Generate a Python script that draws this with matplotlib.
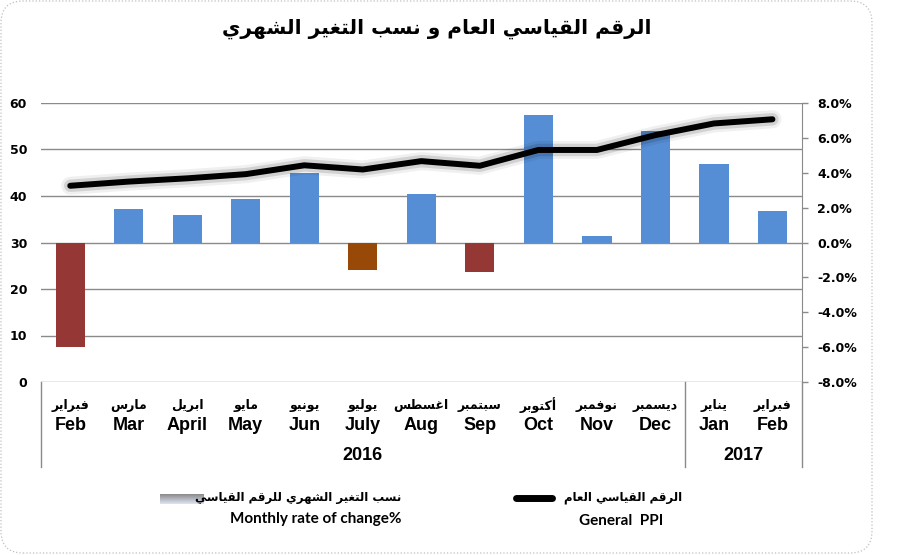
import matplotlib
matplotlib.use("Agg")
import matplotlib.pyplot as plt
import matplotlib.patheffects as pe
import numpy as np
from matplotlib.lines import Line2D
from matplotlib.patches import FancyBboxPatch
from matplotlib.transforms import IdentityTransform, blended_transform_factory
from matplotlib.colors import LinearSegmentedColormap

# --------------------------------------------------------------------------
# Data
# --------------------------------------------------------------------------
MONTHS_EN = ["Feb", "Mar", "April", "May", "Jun", "July", "Aug", "Sep",
             "Oct", "Nov", "Dec", "Jan", "Feb"]
MONTHS_AR = ["فبراير", "مارس", "ابريل", "مايو", "يونيو", "يوليو", "اغسطس",
             "سبتمبر", "أكتوبر", "نوفمبر", "ديسمبر", "يناير", "فبراير"]
YEARS = ["2016", "2017"]
YEAR_SPANS = [(0, 11), (11, 13)]  # [start, stop) category index per year

# General PPI (left axis)
PPI = [42.2, 43.1, 43.8, 44.7, 46.6, 45.7, 47.5, 46.5, 49.9, 49.9, 53.1, 55.6, 56.5]
# Monthly rate of change, % (right axis)
RATE = [-6.0, 1.9, 1.6, 2.5, 4.0, -1.6, 2.8, -1.7, 7.3, 0.4, 6.4, 4.5, 1.8]

TITLE = "الرقم القياسي العام و نسب التغير الشهري"
LEG_BAR_AR = "نسب التغير الشهري للرقم القياسي"
LEG_BAR_EN = "Monthly rate of change%"
LEG_LINE_AR = "الرقم القياسي العام"
LEG_LINE_EN = "General  PPI"

# --------------------------------------------------------------------------
# Styles
# --------------------------------------------------------------------------
BLUE = "#558ED5"
RED = "#953735"
ORANGE = "#984807"
BAR_COLORS = [RED, BLUE, BLUE, BLUE, BLUE, ORANGE, BLUE, RED, BLUE, BLUE, BLUE, BLUE, BLUE]
GRID = "#8a8a8a"
ARIAL = ["Liberation Sans", "DejaVu Sans"]
CALIBRI = ["Lato", "Open Sans", "DejaVu Sans"]
AR_FONT = ["DejaVu Sans"]

# --------------------------------------------------------------------------
# Minimal Arabic shaping (matplotlib has no bidi / contextual forms)
# --------------------------------------------------------------------------
_FORMS = {
    "ا": (0xFE8D, 0xFE8E), "أ": (0xFE83, 0xFE84), "إ": (0xFE87, 0xFE88),
    "آ": (0xFE81, 0xFE82), "د": (0xFEA9, 0xFEAA), "ذ": (0xFEAB, 0xFEAC),
    "ر": (0xFEAD, 0xFEAE), "ز": (0xFEAF, 0xFEB0), "و": (0xFEED, 0xFEEE),
    "ة": (0xFE93, 0xFE94), "ى": (0xFEEF, 0xFEF0),
    "ب": 0xFE8F, "ت": 0xFE95, "ث": 0xFE99, "ج": 0xFE9D, "ح": 0xFEA1,
    "خ": 0xFEA5, "س": 0xFEB1, "ش": 0xFEB5, "ص": 0xFEB9, "ض": 0xFEBD,
    "ط": 0xFEC1, "ظ": 0xFEC5, "ع": 0xFEC9, "غ": 0xFECD, "ف": 0xFED1,
    "ق": 0xFED5, "ك": 0xFED9, "ل": 0xFEDD, "م": 0xFEE1, "ن": 0xFEE5,
    "ه": 0xFEE9, "ي": 0xFEF1,
}


def ar(text):
    out = []
    for i, c in enumerate(text):
        f = _FORMS.get(c)
        if f is None:
            out.append(c)
            continue
        prev = text[i - 1] if i > 0 else ""
        nxt = text[i + 1] if i + 1 < len(text) else ""
        join_prev = isinstance(_FORMS.get(prev), int)
        if isinstance(f, int):
            join_next = nxt in _FORMS
            idx = {(0, 0): 0, (1, 0): 1, (0, 1): 2, (1, 1): 3}[(join_prev, join_next)]
            out.append(chr(f + idx))
        else:
            out.append(chr(f[1] if join_prev else f[0]))
    return "".join(reversed(out))


# --------------------------------------------------------------------------
# Figure
# --------------------------------------------------------------------------
W, H = 906, 555
fig = plt.figure(figsize=(W / 100, H / 100), dpi=100)
fig.patch.set_facecolor("white")


def fx(px):
    return px / W


def fy(py):
    return 1 - py / H


rect = [fx(41), fy(382), fx(801.7) - fx(41), fy(103) - fy(382)]
ax = fig.add_axes(rect)
x = np.arange(len(MONTHS_EN))

# left axis: grid + 0..60 labels
ax.set_ylim(0, 60)
ax.set_yticks(range(0, 61, 10))
ax.set_xlim(-0.5, len(x) - 0.5)
ax.grid(axis="y", color=GRID, lw=1)
ax.set_axisbelow(True)
ax.tick_params(axis="y", length=0, pad=10, labelsize=9)
ax.tick_params(axis="x", length=0, labelbottom=False)
for lab in ax.get_yticklabels():
    lab.set_fontweight("bold")
for s in ["left", "top", "right", "bottom"]:
    ax.spines[s].set_visible(False)

# right axis: bars
ax2 = ax.twinx()
ax2.bar(x, RATE, width=0.5, color=BAR_COLORS, zorder=2)
ax2.set_ylim(-8, 8)
ax2.set_yticks(range(-8, 9, 2))
ax2.yaxis.set_major_formatter(plt.FuncFormatter(lambda v, p: f"{v:.1f}%"))
ax2.tick_params(axis="y", length=4, width=1, color=GRID, pad=7, labelsize=9)
for lab in ax2.get_yticklabels():
    lab.set_fontweight("bold")
for s in ["left", "top", "bottom"]:
    ax2.spines[s].set_visible(False)
ax2.spines["right"].set_color(GRID)

# top layer: the PPI line, on the left scale
ax3 = fig.add_axes(rect, sharex=ax, sharey=ax)
ax3.axis("off")
ax3.plot(x, PPI, color="black", lw=4.3, solid_capstyle="round",
         solid_joinstyle="round",
         path_effects=[pe.Stroke(linewidth=13, foreground="#000000", alpha=0.06),
                       pe.Stroke(linewidth=9, foreground="#000000", alpha=0.12),
                       pe.Normal()])

# category axis (multi-level)
tr = blended_transform_factory(ax.transData, fig.transFigure)
for i in x:
    ax.text(i, fy(405), ar(MONTHS_AR[i]), transform=tr, ha="center", va="center",
            fontsize=9, fontweight="bold", family=AR_FONT)
    ax.text(i, fy(425), MONTHS_EN[i], transform=tr, ha="center", va="center",
            fontsize=13, fontweight="bold", family=ARIAL)
edges = sorted({s - 0.5 for s, _ in YEAR_SPANS} | {e - 0.5 for _, e in YEAR_SPANS})
for e in edges:
    ax.add_artist(Line2D([e, e], [fy(382), fy(467)], transform=tr, color=GRID,
                         lw=1, clip_on=False))
for yr, (s, e) in zip(YEARS, YEAR_SPANS):
    ax.text((s + e - 1) / 2, fy(456), yr, transform=tr, ha="center", va="center",
            fontsize=13, fontweight="bold", family=ARIAL)

# title
fig.text(fx(437), fy(29), ar(TITLE), ha="center", va="center", fontsize=14.5,
         fontweight="bold", family=AR_FONT)

# legend (drawn by hand, like the Excel layout)
grad_ax = fig.add_axes([fx(160), fy(504), fx(44), 10 / H])
grad_ax.imshow(np.linspace(0, 1, 20).reshape(-1, 1), aspect="auto",
               cmap=LinearSegmentedColormap.from_list("g", ["#8c8c8c", "#dde3f2"]))
grad_ax.axis("off")
fig.text(fx(401), fy(497), ar(LEG_BAR_AR), ha="right", va="center", fontsize=8.5,
         fontweight="bold", family=AR_FONT)
fig.text(fx(401), fy(519), LEG_BAR_EN, ha="right", va="center", fontsize=11,
         fontweight="bold", family=CALIBRI)
fig.add_artist(Line2D([fx(516), fx(552)], [fy(498), fy(498)], color="black", lw=5,
                      solid_capstyle="round", transform=fig.transFigure))
fig.text(fx(682), fy(497), ar(LEG_LINE_AR), ha="right", va="center", fontsize=8.5,
         fontweight="bold", family=AR_FONT)
fig.text(fx(621), fy(521), LEG_LINE_EN, ha="center", va="center", fontsize=11,
         fontweight="bold", family=CALIBRI)

# rounded chart frame
fig.add_artist(FancyBboxPatch((1, 2), 871, 552, boxstyle="round,pad=0,rounding_size=22",
                              transform=IdentityTransform(), facecolor="none",
                              edgecolor="#bfbfbf", lw=0.9, ls=":"))

fig.savefig("out.png", dpi=100)
